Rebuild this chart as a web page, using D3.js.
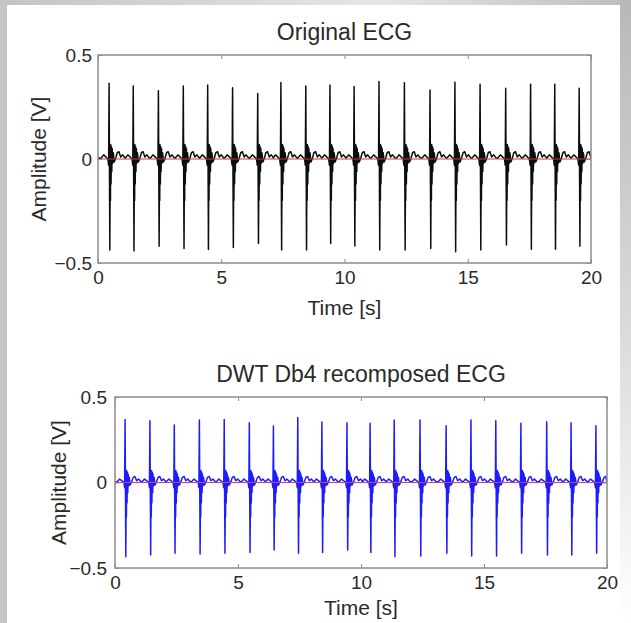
<!DOCTYPE html>
<html lang="en">
<head>
  <meta charset="UTF-8">
  <title>Original ECG / DWT Db4 recomposed ECG</title>
  <script src="https://d3js.org/d3.v7.min.js"></script>
  <style>
    body { margin: 0; background: #fff; }
    svg { display: block; }
    text { font-family: "Liberation Sans", Arial, sans-serif; fill: #2a2a2a; }
    .tick text { font-size: 19px; }
    .axis-label { font-size: 21px; }
    .graph-title { font-size: 23px; }
  </style>
</head>
<body>
<script>
// axis ticks
const timeTicks = [0, 5, 10, 15, 20];
const ampTicks = [-0.5, 0, 0.5];

// original ECG: beat times (s), R peak and S trough amplitudes (V)
const ecgBeatTimes = [0.45, 1.43, 2.45, 3.46, 4.45, 5.46, 6.48, 7.42, 8.43, 9.41,
                      10.39, 11.40, 12.43, 13.47, 14.48, 15.50, 16.54, 17.55, 18.53, 19.52];
const ecgR = [0.364, 0.351, 0.328, 0.351, 0.356, 0.343, 0.315, 0.368, 0.351, 0.356,
              0.348, 0.372, 0.367, 0.332, 0.369, 0.359, 0.340, 0.359, 0.359, 0.340];
const ecgS = [-0.437, -0.442, -0.420, -0.430, -0.435, -0.425, -0.406, -0.437, -0.437, -0.406,
              -0.418, -0.437, -0.437, -0.430, -0.446, -0.437, -0.413, -0.434, -0.434, -0.420];

// recomposed ECG (DWT db4)
const dwtBeatTimes = [0.41, 1.42, 2.41, 3.43, 4.44, 5.46, 6.44, 7.43, 8.41, 9.43,
                      10.37, 11.35, 12.40, 13.46, 14.47, 15.48, 16.50, 17.55, 18.54, 19.55];
const dwtR = [0.369, 0.361, 0.336, 0.365, 0.369, 0.349, 0.331, 0.380, 0.354, 0.349,
              0.346, 0.365, 0.365, 0.332, 0.365, 0.361, 0.346, 0.355, 0.349, 0.332];
const dwtS = [-0.434, -0.424, -0.414, -0.418, -0.414, -0.410, -0.395, -0.414, -0.410, -0.395,
              -0.410, -0.434, -0.430, -0.414, -0.430, -0.430, -0.414, -0.424, -0.424, -0.414];

// shape of one beat around the R peak: offset (s) and amplitude (V); "R"/"S" take the beat's values
const beatOffsets = [-0.32, -0.22, -0.13, -0.05, -0.02, 0, 0.03, 0.045, 0.055, 0.065, 0.08,
                     0.095, 0.11, 0.125, 0.145, 0.17, 0.21, 0.27, 0.33, 0.40, 0.47, 0.55, 0.65];
const beatValues  = [0.005, 0.02, 0.01, 0.0, -0.03, "R", "S", -0.05, -0.2, 0.07, -0.12,
                     0.06, -0.06, 0.05, -0.02, 0.03, -0.015, 0.005, 0.03, 0.035, 0.01, 0.02, 0.005];

// red zero reference line
const refTimes = [0, 20];
const refValues = [0, 0];

const W = 631, H = 623;
const svg = d3.select("body").append("svg").attr("width", W).attr("height", H);

// grey frame
const defs = svg.append("defs");
const gH = defs.append("linearGradient").attr("id", "frameH");
gH.append("stop").attr("offset", "0%").attr("stop-color", "#c4c4c4");
gH.append("stop").attr("offset", "60%").attr("stop-color", "#e6e6e6");
gH.append("stop").attr("offset", "100%").attr("stop-color", "#bdbdbd");
const gR = defs.append("linearGradient").attr("id", "frameR")
  .attr("x1", 0).attr("y1", 0).attr("x2", 0).attr("y2", 1);
gR.append("stop").attr("offset", "0%").attr("stop-color", "#b8b8b8");
gR.append("stop").attr("offset", "55%").attr("stop-color", "#dcdcdc");
gR.append("stop").attr("offset", "100%").attr("stop-color", "#ffffff");
defs.append("filter").attr("id", "soft")
  .append("feGaussianBlur").attr("stdDeviation", 0.5);

svg.append("rect").attr("width", W).attr("height", H).attr("fill", "url(#frameH)");
svg.append("rect").attr("x", 0).attr("y", 0).attr("width", 7).attr("height", H).attr("fill", "#c6c6c6");
svg.append("rect").attr("x", 620).attr("y", 0).attr("width", 11).attr("height", H).attr("fill", "url(#frameR)");
svg.append("rect").attr("x", 7).attr("y", 5).attr("width", 613).attr("height", H - 5).attr("fill", "#fff");

function buildSignal(times, rs, ss) {
  const pts = [{ t: 0, v: 0.005 }];
  times.forEach((bt, i) => {
    beatOffsets.forEach((o, k) => {
      const val = beatValues[k];
      const v = val === "R" ? rs[i] : val === "S" ? ss[i] : val;
      const t = bt + o;
      if (t >= 0 && t <= 20) pts.push({ t, v });
    });
  });
  pts.push({ t: 20, v: 0.0 });
  return pts;
}

function panel(opts) {
  const { left, right, top, bottom, title, color, refColor, times, rs, ss, yPad, labelX, xLabelGap } = opts;
  const x = d3.scaleLinear().domain([0, 20]).range([left, right]);
  const y = d3.scaleLinear().domain([-0.5, 0.5]).range([bottom, top]);
  const g = svg.append("g");

  const clipId = "clip" + top;
  defs.append("clipPath").attr("id", clipId)
    .append("rect").attr("x", left).attr("y", top)
    .attr("width", right - left).attr("height", bottom - top);

  const line = d3.line().x(d => x(d.t)).y(d => y(d.v));
  const plot = g.append("g").attr("clip-path", `url(#${clipId})`);
  plot.append("path")
    .datum(buildSignal(times, rs, ss))
    .attr("fill", "none")
    .attr("stroke", color)
    .attr("stroke-width", 1.5)
    .attr("stroke-linejoin", "round")
    .attr("filter", "url(#soft)")
    .attr("d", line);
  plot.append("path")
    .datum(refTimes.map((t, i) => ({ t, v: refValues[i] })))
    .attr("fill", "none")
    .attr("stroke", refColor)
    .attr("stroke-width", 1.1)
    .attr("d", line);

  // axes (ticks inside the box, like MATLAB)
  const axB = g.append("g").attr("transform", `translate(0,${bottom})`)
    .call(d3.axisBottom(x).tickValues(timeTicks).tickSizeInner(-4).tickSizeOuter(0).tickPadding(8));
  const axT = g.append("g").attr("transform", `translate(0,${top})`)
    .call(d3.axisTop(x).tickValues(timeTicks).tickSizeInner(-4).tickSizeOuter(0).tickFormat(""));
  const axL = g.append("g").attr("transform", `translate(${left},0)`)
    .call(d3.axisLeft(y).tickValues(ampTicks).tickSizeInner(-4).tickSizeOuter(0).tickPadding(yPad)
      .tickFormat(d => d === 0 ? "0" : d3.format(".1f")(d)));
  const axR = g.append("g").attr("transform", `translate(${right},0)`)
    .call(d3.axisRight(y).tickValues(ampTicks).tickSizeInner(-4).tickSizeOuter(0).tickFormat(""));
  [axB, axT, axL, axR].forEach(a => {
    a.select(".domain").remove();
    a.selectAll(".tick line").attr("stroke", "#8c8c8c");
    a.selectAll(".tick text").attr("fill", "#2a2a2a").style("font-size", null)
      .attr("font-size", null).attr("font-family", null);
  });

  g.append("rect")
    .attr("x", left).attr("y", top)
    .attr("width", right - left).attr("height", bottom - top)
    .attr("fill", "none").attr("stroke", "#8c8c8c").attr("stroke-width", 1.5);

  g.append("text").attr("class", "graph-title")
    .attr("x", (left + right) / 2).attr("y", top - 15)
    .attr("text-anchor", "middle").text(title);
  g.append("text").attr("class", "axis-label")
    .attr("x", (left + right) / 2).attr("y", bottom + xLabelGap)
    .attr("text-anchor", "middle").text("Time [s]");
  g.append("text").attr("class", "axis-label")
    .attr("transform", `translate(${labelX},${(top + bottom) / 2}) rotate(-90)`)
    .attr("text-anchor", "middle").text("Amplitude [V]");
}

panel({ left: 98, right: 591, top: 55, bottom: 263, title: "Original ECG", labelX: 46, xLabelGap: 52,
        color: "#111", refColor: "#d03a3a", times: ecgBeatTimes, rs: ecgR, ss: ecgS, yPad: 6 });
panel({ left: 115, right: 607, top: 397, bottom: 568, title: "DWT Db4 recomposed ECG", labelX: 66, xLabelGap: 47,
        color: "#1f1fff", refColor: "#e0405a", times: dwtBeatTimes, rs: dwtR, ss: dwtS, yPad: 8 });
</script>
</body>
</html>
